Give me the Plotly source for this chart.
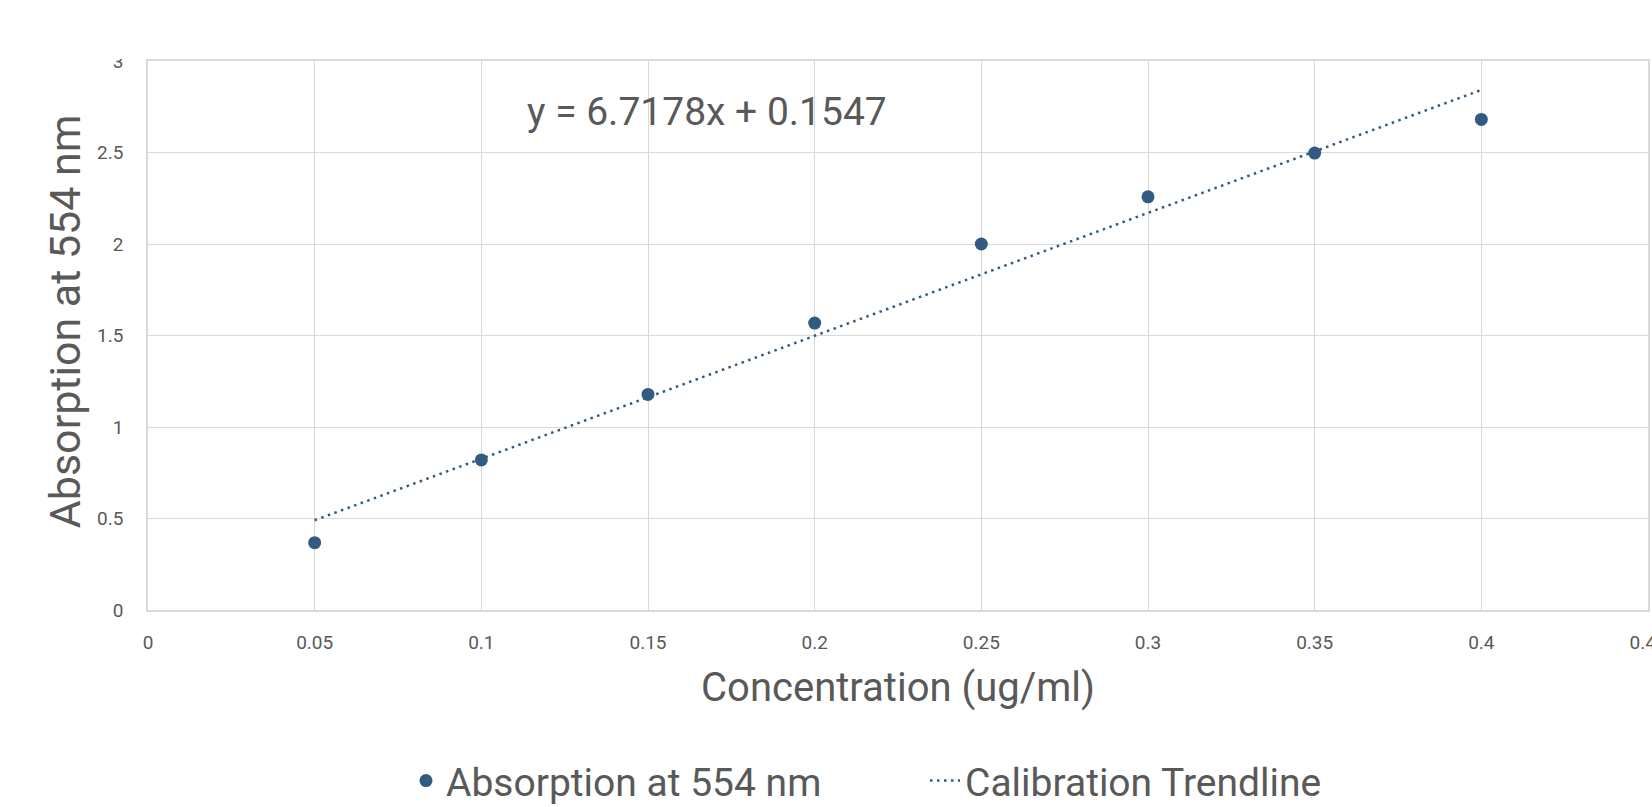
import plotly.graph_objects as go

# Data
concentration = [0.05, 0.10, 0.15, 0.20, 0.25, 0.30, 0.35, 0.40]
absorption = [0.368, 0.820, 1.178, 1.568, 2.000, 2.258, 2.497, 2.681]

# Trendline as printed on the chart
slope = 6.7178
intercept = 0.1547
trend_x = [0.05, 0.40]
trend_y = [slope * x + intercept for x in trend_x]

x_ticks = [0, 0.05, 0.1, 0.15, 0.2, 0.25, 0.3, 0.35, 0.4, 0.45]
x_tick_text = ["0", "0.05", "0.1", "0.15", "0.2", "0.25", "0.3", "0.35", "0.4", "0.45"]
y_ticks = [0, 0.5, 1, 1.5, 2, 2.5, 3]
y_tick_text = ["0", "0.5", "1", "1.5", "2", "2.5", "3"]

color = "#335b82"
text_color = "#595959"
grid = "#d9d9d9"
font = "Roboto"

fig = go.Figure()
fig.add_trace(go.Scatter(
    x=concentration, y=absorption, mode="markers",
    name="Absorption at 554 nm",
    marker=dict(size=13, color=color),
))
fig.add_trace(go.Scatter(
    x=trend_x, y=trend_y, mode="lines",
    name="Calibration Trendline",
    line=dict(color=color, width=2.5, dash="2.5px,4.5px"),
))

fig.update_layout(
    width=1652, height=807,
    margin=dict(l=148, r=4, t=61, b=197, autoexpand=False),
    plot_bgcolor="white", paper_bgcolor="white",
    font=dict(family=font, color=text_color),
    showlegend=True,
    legend=dict(orientation="h", x=0.172, xanchor="left", y=-0.311, yanchor="middle",
                font=dict(size=39, color=text_color, family=font),
                itemwidth=30, entrywidth=474, entrywidthmode="pixels"),
    annotations=[
        dict(text="y = 6.7178x + 0.1547", x=0.113, y=2.72, xref="x", yref="y",
             xanchor="left", yanchor="middle", showarrow=False,
             font=dict(size=39, color=text_color, family=font)),
        dict(text="Absorption at 554 nm", x=-0.0553, y=0.526, xref="paper", yref="paper",
             xanchor="center", yanchor="middle", showarrow=False, textangle=-90,
             font=dict(size=43, color=text_color, family=font)),
    ],
    shapes=[dict(type="rect", xref="paper", yref="paper",
                 x0=-0.2, x1=-0.003, y0=1.0036, y1=1.2,
                 fillcolor="white", line=dict(width=0), layer="above")],
)
fig.update_xaxes(
    range=[0, 0.45], tickvals=x_ticks, ticktext=x_tick_text,
    showgrid=True, gridcolor=grid, gridwidth=1.3,
    showline=True, linecolor=grid, linewidth=1.5, mirror=True,
    zeroline=False, ticks="", ticklabelstandoff=14, ticklabeloverflow="allow",
    automargin=False,
    tickfont=dict(size=19, color=text_color),
    title=dict(text="Concentration (ug/ml)", font=dict(size=40, color=text_color), standoff=20),
)
fig.update_yaxes(
    range=[0, 3], tickvals=y_ticks, ticktext=y_tick_text,
    showgrid=True, gridcolor=grid, gridwidth=1.3,
    showline=True, linecolor=grid, linewidth=1.5, mirror=True,
    zeroline=False, ticks="", ticklabelstandoff=19, ticklabeloverflow="allow",
    automargin=False,
    tickfont=dict(size=19, color=text_color),
)

post = (
    "document.documentElement.style.margin='0';"
    "document.documentElement.style.overflow='hidden';"
    "document.body.style.margin='0';"
    "document.body.style.overflow='hidden';"
)
fig.write_html("out.html", config={"displayModeBar": False}, post_script=post)
